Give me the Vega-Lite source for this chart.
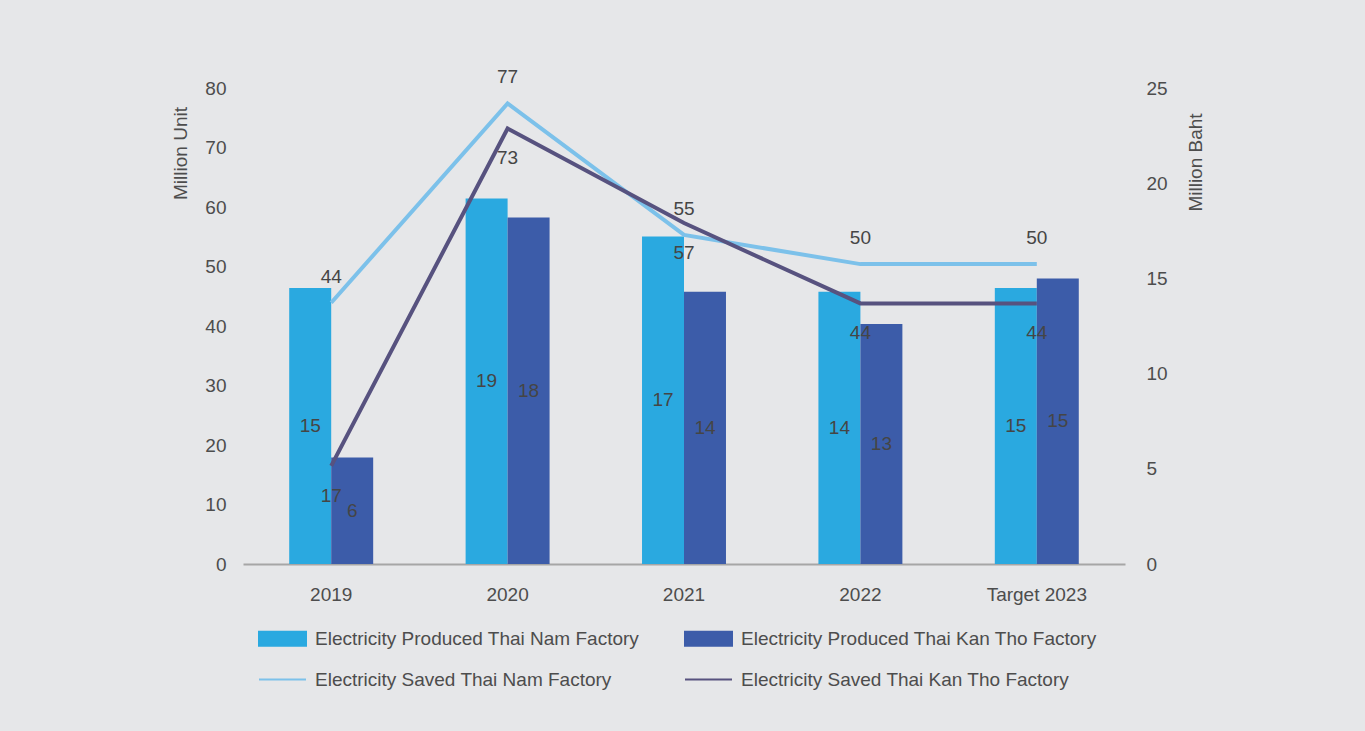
{
  "$schema": "https://vega.github.io/schema/vega-lite/v6.json",
  "width": 882,
  "height": 476,
  "autosize": {"type": "none"},
  "padding": {"left": 243, "top": 88, "right": 240, "bottom": 167},
  "background": "#e6e7e9",
  "config": {
    "view": {"stroke": null},
    "font": "Liberation Sans",
    "axis": {"grid": false, "ticks": false, "tickSize": 0, "domain": false, "labelFontSize": 19, "labelColor": "#4d4d4d", "titleFontSize": 19, "titleColor": "#4d4d4d", "titleFontWeight": "normal", "labelFont": "Liberation Sans", "titleFont": "Liberation Sans"},
    "text": {"font": "Liberation Sans", "fontSize": 19, "color": "#454545"}
  },
  "datasets": {
    "bars": [
      {"year": "2019", "series": "Electricity Produced Thai Nam Factory", "value": 14.5},
      {"year": "2019", "series": "Electricity Produced Thai Kan Tho Factory", "value": 5.6},
      {"year": "2020", "series": "Electricity Produced Thai Nam Factory", "value": 19.2},
      {"year": "2020", "series": "Electricity Produced Thai Kan Tho Factory", "value": 18.2},
      {"year": "2021", "series": "Electricity Produced Thai Nam Factory", "value": 17.2},
      {"year": "2021", "series": "Electricity Produced Thai Kan Tho Factory", "value": 14.3},
      {"year": "2022", "series": "Electricity Produced Thai Nam Factory", "value": 14.3},
      {"year": "2022", "series": "Electricity Produced Thai Kan Tho Factory", "value": 12.6},
      {"year": "Target 2023", "series": "Electricity Produced Thai Nam Factory", "value": 14.5},
      {"year": "Target 2023", "series": "Electricity Produced Thai Kan Tho Factory", "value": 15.0}
    ],
    "lines": [
      {"year": "2019", "series": "Electricity Saved Thai Nam Factory", "value": 43.9},
      {"year": "2020", "series": "Electricity Saved Thai Nam Factory", "value": 77.4},
      {"year": "2021", "series": "Electricity Saved Thai Nam Factory", "value": 55.3},
      {"year": "2022", "series": "Electricity Saved Thai Nam Factory", "value": 50.4},
      {"year": "Target 2023", "series": "Electricity Saved Thai Nam Factory", "value": 50.4},
      {"year": "2019", "series": "Electricity Saved Thai Kan Tho Factory", "value": 16.5},
      {"year": "2020", "series": "Electricity Saved Thai Kan Tho Factory", "value": 73.2},
      {"year": "2021", "series": "Electricity Saved Thai Kan Tho Factory", "value": 57.3},
      {"year": "2022", "series": "Electricity Saved Thai Kan Tho Factory", "value": 43.8},
      {"year": "Target 2023", "series": "Electricity Saved Thai Kan Tho Factory", "value": 43.8}
    ]
  },
  "encoding": {
    "x": {
      "field": "year",
      "type": "nominal",
      "sort": ["2019", "2020", "2021", "2022", "Target 2023"],
      "scale": {"paddingInner": 0.524, "paddingOuter": 0.262},
      "axis": {"title": null, "labelAngle": 0, "domain": true, "domainColor": "#a6a6a6", "domainWidth": 2, "labelPadding": 21}
    }
  },
  "layer": [
    {
      "data": {"name": "bars"},
      "mark": {"type": "bar"},
      "encoding": {
        "xOffset": {"field": "series", "type": "nominal", "sort": ["Electricity Produced Thai Nam Factory", "Electricity Produced Thai Kan Tho Factory"], "scale": {"paddingInner": 0, "paddingOuter": 0}},
        "y": {
          "field": "value", "type": "quantitative",
          "scale": {"domain": [0, 25]},
          "axis": {"orient": "right", "title": "Million Baht", "values": [0, 5, 10, 15, 20, 25], "labelPadding": 21, "titleAngle": 270, "titleX": 70, "titleY": 74, "titleAlign": "center", "titleBaseline": "middle"}
        },
        "color": {
          "field": "series", "type": "nominal",
          "scale": {
            "domain": ["Electricity Produced Thai Nam Factory", "Electricity Produced Thai Kan Tho Factory", "Electricity Saved Thai Nam Factory", "Electricity Saved Thai Kan Tho Factory"],
            "range": ["#2aa9e0", "#3c5ca9", "#7cc1ea", "#57527f"]
          },
          "legend": {
            "orient": "none", "legendX": 15, "legendY": 526, "direction": "horizontal", "columns": 2, "title": null,
            "labelFontSize": 19, "labelColor": "#4d4d4d", "labelFont": "Liberation Sans", "labelOffset": 8, "labelLimit": 600,
            "columnPadding": 41, "rowPadding": 5,
            "symbolSize": 2209, "symbolType": "M-1,-0.3H1V0.3H-1Z", "symbolStrokeWidth": 2,
            "encode": {"symbols": {"update": {
              "shape": {"signal": "indexof(datum.label,'Saved')>=0 ? 'M-1,0H1' : 'M-1,-0.3H1V0.3H-1Z'"},
              "fill": {"signal": "indexof(datum.label,'Saved')>=0 ? 'transparent' : scale('color', datum.value)"},
              "stroke": {"signal": "indexof(datum.label,'Saved')>=0 ? (indexof(datum.label,'Kan Tho')>=0 ? '#3d5ca9' : '#7bc1e9') : 'transparent'"},
              "strokeWidth": {"value": 2},
              "size": {"value": 2209},
              "opacity": {"value": 1}
            }}}
          }
        }
      }
    },
    {
      "data": {"name": "lines"},
      "mark": {"type": "line", "strokeWidth": 4},
      "encoding": {
        "y": {
          "field": "value", "type": "quantitative",
          "scale": {"domain": [0, 80]},
          "axis": {"orient": "left", "title": "Million Unit", "values": [0, 10, 20, 30, 40, 50, 60, 70, 80], "labelPadding": 17, "titleAngle": 270, "titleX": -63, "titleY": 65, "titleAlign": "center", "titleBaseline": "middle"}
        },
        "color": {
          "field": "series", "type": "nominal",
          "scale": {
            "domain": ["Electricity Produced Thai Nam Factory", "Electricity Produced Thai Kan Tho Factory", "Electricity Saved Thai Nam Factory", "Electricity Saved Thai Kan Tho Factory"],
            "range": ["#2aa9e0", "#3c5ca9", "#7cc1ea", "#57527f"]
          },
          "legend": null
        }
      }
    },
    {
      "data": {"name": "bars"},
      "mark": {"type": "text", "baseline": "middle", "align": "center"},
      "encoding": {
        "xOffset": {"field": "series", "type": "nominal", "sort": ["Electricity Produced Thai Nam Factory", "Electricity Produced Thai Kan Tho Factory"]},
        "y": {"field": "value", "type": "quantitative", "scale": {"domain": [0, 50]}, "axis": null},
        "text": {"field": "value", "type": "quantitative", "format": ".0f"}
      }
    },
    {
      "data": {"name": "lines"},
      "transform": [{"filter": "datum.series === 'Electricity Saved Thai Nam Factory'"}],
      "mark": {"type": "text", "baseline": "middle", "align": "center", "dy": -26},
      "encoding": {
        "y": {"field": "value", "type": "quantitative", "scale": {"domain": [0, 80]}, "axis": null},
        "text": {"field": "value", "type": "quantitative", "format": ".0f"}
      }
    },
    {
      "data": {"name": "lines"},
      "transform": [{"filter": "datum.series === 'Electricity Saved Thai Kan Tho Factory'"}],
      "mark": {"type": "text", "baseline": "middle", "align": "center", "dy": 30},
      "encoding": {
        "y": {"field": "value", "type": "quantitative", "scale": {"domain": [0, 80]}, "axis": null},
        "text": {"field": "value", "type": "quantitative", "format": ".0f"}
      }
    }
  ],
  "resolve": {"scale": {"y": "independent"}}
}
